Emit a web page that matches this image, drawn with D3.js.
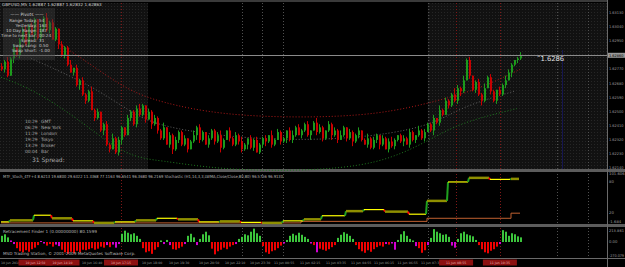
<!DOCTYPE html>
<html>
<head>
<meta charset="utf-8">
<script src="https://cdn.jsdelivr.net/npm/d3@7"></script>
<style>
  body { margin: 0; background: #000; }
  svg { display: block; }
  text { font-family: "DejaVu Sans", sans-serif; }
</style>
</head>
<body>
<svg width="625" height="267"></svg>
<script>
// ---- data ----
const firstOpen = 16279;
const closes = [
  16277,16282,16273,16284,16291,16286,16296,16302,16293,16305,16299,
  16309,16297,16303,16310,16302,16307,16296,16303,
  16293,16286,16291,16280,16275,16278,16267,
  16270,16261,16257,16263,16251,16246,16250,
  16238,16242,16229,16226,16233,16224,
  16232,16240,16235,16246,16250,16242,16252,
  16248,16254,16245,16250,16242,16246,16238,
  16233,16240,16229,16235,16226,16232,16237,16229,
  16233,16226,16231,16235,16240,16232,16237,16229,16233,16238,
  16231,16235,16227,16232,16238,16233,16229,16235,16231,16226,
  16229,16233,16227,16232,16224,16229,16233,16231,16235,16229,
  16232,16237,16231,16233,16238,16232,16235,16240,16235,16238,
  16242,16235,16238,16243,16237,16240,16233,16238,16242,16235,
  16238,16232,16235,16240,16233,16237,16231,16235,16238,16232,
  16229,16233,16227,16232,16235,16229,16233,16226,16231,16228,
  16232,16235,16231,16233,16229,16237,16232,16235,16238,16233,
  16237,16242,16238,16246,16243,16251,16248,16257,
  16254,16261,16257,16265,16263,16270,16283,
  16273,16264,16269,16261,16257,16265,16272,16263,
  16257,16264,16261,16267,16270,16275,16280,16283,16284,16286
];
const wickUp = [
  2,1,3,1,2,0,1,2,3,1,2,1,0,2,1,3,1,2,1,0,
  2,1,1,3,0,2,1,2,1,1,3,1,2,0,1,2,1,3,1,2,
  1,0,2,1,1,2,3,1,0,2,1,2,1,1,3,0,2,1,2,1,
  1,2,0,1,3,1,2,1,0,2,1,1,2,3,1,0,2,1,2,1,
  3,1,0,2,1,2,1,1,2,0,3,1,2,1,1,0,2,3,1,2,
  1,1,2,0,1,3,2,1,0,2,1,2,1,3,1,0,2,1,1,2,
  0,1,3,1,2,1,0,2,1,2,3,1,0,1,2,1,2,1,0,3,
  1,2,1,1,2,0,3,1,2,1,1,4,2,1,3,1,2,0,1,2,
  1,3,1,2,1,0,2,1,3,2,1,0,1,2
];
const wickDn = [
  1,2,1,0,3,1,2,1,1,2,0,3,1,2,1,1,2,0,1,3,
  1,2,1,0,2,1,3,1,2,1,0,2,1,1,3,1,2,0,1,2,
  3,1,0,2,1,2,1,1,2,0,3,1,2,1,1,0,2,3,1,2,
  1,1,2,0,1,3,2,1,0,2,1,2,1,3,1,0,2,1,1,2,
  2,1,3,1,2,0,1,2,3,1,2,1,0,2,1,3,1,2,1,0,
  2,1,1,3,0,2,1,2,1,1,3,1,2,0,1,2,1,3,1,2,
  1,0,2,1,1,2,3,1,0,2,1,2,1,1,3,0,2,1,2,1,
  1,2,0,1,3,1,2,1,0,2,1,1,2,3,1,0,2,1,2,1,
  3,1,0,2,1,2,1,1,2,0,3,1,2,1
];
const priceTicks = [16313,16304,16295,16286,16277,16268,16259,16250,16241,16232,16223,16214];
const lastPrice = 16286;

// envelope curves: [bar, price]
const redBand = [[19,16294],[30,16280],[42,16264],[53,16256],[73,16248],[100,16246],[126,16248],[146,16257],[160,16265],[173,16277]];
const grayBand = [[10,16284],[30,16267],[43,16250],[53,16240],[83,16232],[116,16232],[143,16240],[153,16253],[171,16263]];
const greenBand = [[0,16272],[11,16264],[26,16245],[42,16221],[53,16219],[73,16213],[100,16212],[126,16216],[143,16232],[153,16243],[172,16252]];

// separators (bar positions)
const redSeps = [40, 151.7, 166.3];
const graySeps = [80.3, 87, 94, 142.3, 185.3, 195.7];
const shadedSpans = [[-0.4, 49], [142.3, 202]];

// MTF stochastic steps
const stochBars = [0,3,11,17,24,31,38,45,52,59,66,73,80,87,94,101,107,115,121,128,136,142,149,156,163,170,173];
const stochVals = [2,5,15,9,4,0,2,5,9,7,2,3,1,0,4,7,14,23,26,22,17,43,80,88,85,86,86];
const brownBars = [0,100,142,170,173];
const brownVals = [0,3,9,19,19];
const stochTicks = [["101.606",101.6],["80",80],["20",20],["-1.684",0]];

// histogram
const hist = [
  120,150,90,30,-40,-120,-180,-200,-160,-190,-140,-110,-60,20,-30,-70,-40,-90,-50,-80,
  -150,-200,-230,-190,-220,-170,-200,-150,-160,-140,-120,-150,-130,-90,-110,-60,-100,-50,-110,-40,
  160,220,180,150,170,120,60,-120,-200,-180,-230,-150,-100,30,-40,40,-60,-140,-150,-120,
  -90,-40,120,160,90,-60,60,150,200,130,-130,-240,-180,-150,-110,-140,-90,-60,-40,60,
  100,150,130,200,260,170,120,-80,-200,-230,-180,-160,-120,-70,-30,40,120,160,130,180,
  140,100,60,-30,-60,-200,-130,-150,-170,-140,-100,-60,80,140,190,160,120,60,-60,-140,
  -180,-210,-160,-190,-140,-100,-70,-90,-40,-50,-30,-150,40,150,210,120,60,30,-80,-120,
  -210,-160,-60,80,250,200,170,140,150,100,-70,-110,60,170,200,150,130,110,40,-60,
  -140,-200,-220,-170,-140,-90,-40,230,200,120,170,150,110,90
];
const magentaBars = [3,4,13,14,18,19,35,37,38,39,54,56,61,65,78,94,103,105,128,130,131,138,142,150,151,166];
const histTicks = [["213.861",213.9],["0.00",0],["-270.079",-270]];

// time axis: [text, bar]
const timeLabels = [
  ["10 Jun 2010",0],["10 Jun 16:40",27],["10 Jun 18:00",47],["10 Jun 19:30",56],
  ["10 Jun 20:50",66],["10 Jun 22:10",74.7],["10 Jun 23:30",83],["11 Jun 00:55",91],
  ["11 Jun 02:15",99.7],["11 Jun 03:35",108.3],["11 Jun 04:55",116.7],["11 Jun 06:15",124.3],
  ["11 Jun 06:55",132.2],["11 Jun 07:35",140]
];
// red flags at marked times: [text, center bar]
const timeFlags = [["10 Jun 12:50",11.5],["10 Jun 14:10",20.5],["10 Jun 17:15",40],["11 Jun 08:55",151.7],["11 Jun 10:35",166.3]];

const title = "GBPUSD,M5  1.62887 1.62887 1.62832 1.62863";
const infoRows = [["Range Today:","54"],["Yesterday:","163"],["10 Day Range:","187"],["Time to next bar:","00:24"],["Spread:","31"],["Swap Long:","0.50"],["Swap Short:","-1.00"]];
const clockRows = [["10:29","GMT"],["06:29","New York"],["11:29","London"],["19:29","Tokyo"],["13:29","Broker"],["00:04","Bar"]];
const stochLabel = "MTF_Stoch_4TF+4 8.6213 19.6800 29.6322 11.3368 77.1163 96.6541 96.3680 96.2169  Stochastic (H1,14,3,3,LWMA,Close/Close,80,80) 96.5756 96.9130";
const histLabel = "Retracement Finder 1 (0.00000000) 80.1599";
const copyright = "MSD Trading Station, \u00a9 2001-2009 MetaQuotes Software Corp.";

// ---- layout ----
const svg = d3.select("svg");
const plotRight = 607;
const x = d3.scaleLinear().domain([0, 173]).range([1, 520]);
const y = d3.scaleLinear().domain([16313, 16214]).range([13, 168.1]);
const ys = d3.scaleLinear().domain([0, 101.6]).range([222.9, 170.9]);
const yh = d3.scaleLinear().domain([0, 213.9]).range([242, 231]);

svg.append("rect").attr("width", 625).attr("height", 267).attr("fill", "#000");

// dotted texture
const defs = svg.append("defs");
const pat = defs.append("pattern").attr("id", "dots").attr("width", 3).attr("height", 3)
  .attr("patternUnits", "userSpaceOnUse");
pat.append("rect").attr("width", 3).attr("height", 3).attr("fill", "#111");
pat.append("rect").attr("width", 1).attr("height", 1).attr("fill", "#262626");

svg.append("g").selectAll("rect").data(shadedSpans).join("rect")
  .attr("x", d => Math.max(0, x(d[0])))
  .attr("width", d => Math.min(plotRight, x(d[1])) - Math.max(0, x(d[0])))
  .attr("y", 3).attr("height", 166).attr("fill", "url(#dots)");

// separators through all panels
function seps(list, color) {
  svg.append("g").selectAll("line").data(list).join("line")
    .attr("x1", d => Math.round(x(d)) + 0.5).attr("x2", d => Math.round(x(d)) + 0.5)
    .attr("y1", 3).attr("y2", 258)
    .attr("stroke", color).attr("stroke-width", 1).attr("stroke-dasharray", "1,2");
}
seps(graySeps, "#505050");
seps(redSeps, "#801818");

// blue line at right
svg.append("line").attr("x1", 562.5).attr("x2", 562.5).attr("y1", 50).attr("y2", 169)
  .attr("stroke", "#15154f").attr("stroke-width", 1);

// top frame and panel separators
svg.append("rect").attr("x", 0).attr("y", 0).attr("width", plotRight).attr("height", 2).attr("fill", "#3a3a3a");
svg.append("rect").attr("x", 0).attr("y", 169).attr("width", 625).attr("height", 3).attr("fill", "#5c5c5c");
svg.append("rect").attr("x", 0).attr("y", 224).attr("width", 625).attr("height", 3).attr("fill", "#5c5c5c");
svg.append("line").attr("x1", 0).attr("x2", 625).attr("y1", 258.5).attr("y2", 258.5).attr("stroke", "#6a6a6a");
svg.append("line").attr("x1", plotRight + 0.5).attr("x2", plotRight + 0.5).attr("y1", 0).attr("y2", 267).attr("stroke", "#6a6a6a");

// envelope curves
const band = d3.line().x(d => x(d[0])).y(d => y(d[1])).curve(d3.curveBasis);
[[redBand, "#b01818"], [grayBand, "#606060"], [greenBand, "#1f7a1f"]].forEach(([pts, c]) => {
  svg.append("path").attr("d", band(pts)).attr("fill", "none")
    .attr("stroke", c).attr("stroke-width", 1).attr("stroke-dasharray", "1,2");
});

// candles
const bars = closes.map((c, i) => {
  const o = i === 0 ? firstOpen : closes[i - 1];
  return { i, o, c, h: Math.max(o, c) + wickUp[i], l: Math.min(o, c) - wickDn[i] };
});
const cg = svg.append("g");
cg.selectAll("line").data(bars).join("line")
  .attr("x1", d => Math.round(x(d.i)) + 0.5).attr("x2", d => Math.round(x(d.i)) + 0.5)
  .attr("y1", d => y(d.h)).attr("y2", d => y(d.l))
  .attr("stroke", d => d.c >= d.o ? "#1c9a1c" : "#c80000");
cg.selectAll("rect").data(bars).join("rect")
  .attr("x", d => Math.round(x(d.i)))
  .attr("width", 2)
  .attr("y", d => Math.min(y(d.o), y(d.c)))
  .attr("height", d => Math.max(1, Math.abs(y(d.o) - y(d.c))))
  .attr("fill", d => d.c >= d.o ? "#1c9a1c" : "#c80000");

// last price line
svg.append("line").attr("x1", 0).attr("x2", plotRight).attr("y1", Math.round(y(lastPrice)) + 0.5)
  .attr("y2", Math.round(y(lastPrice)) + 0.5).attr("stroke", "#8a8a8a");

// price axis labels
svg.append("g").selectAll("text").data(priceTicks).join("text")
  .attr("x", 609).attr("y", d => y(d) + 1)
  .attr("font-size", 3.8).attr("fill", "#9a9a9a")
  .attr("textLength", 14.5).attr("lengthAdjust", "spacingAndGlyphs")
  .text(d => (d / 10000).toFixed(5));
svg.append("rect").attr("x", 608).attr("y", y(lastPrice) - 2.5).attr("width", 17).attr("height", 5).attr("fill", "#9a9a9a");
svg.append("text").attr("x", 609).attr("y", y(lastPrice) + 1.5).attr("font-size", 3.8).attr("fill", "#000")
  .attr("textLength", 14.5).attr("lengthAdjust", "spacingAndGlyphs")
  .text((lastPrice / 10000).toFixed(5));
svg.append("text").attr("x", 537).attr("y", y(lastPrice) + 6).attr("font-size", 6.8).attr("fill", "#e0e0e0")
  .text("\u02dc" + (lastPrice / 10000).toFixed(4));

// title
svg.append("text").attr("x", 2).attr("y", 6).attr("font-size", 4.2).attr("fill", "#d0d0d0").text(title);

// info box
svg.append("rect").attr("x", 3).attr("y", 8).attr("width", 52).attr("height", 52)
  .attr("fill", "#3a3a3a").attr("opacity", 0.45);
svg.append("text").attr("x", 27).attr("y", 16).attr("text-anchor", "middle").attr("font-size", 4.4)
  .attr("fill", "#c8c8c8").text("\u2014\u2014  Pivots  \u2014\u2014");
const info = svg.append("g").selectAll("g").data(infoRows).join("g");
info.append("text").attr("x", 37).attr("y", (d, i) => 21.5 + i * 5).attr("text-anchor", "end")
  .attr("font-size", 4.2).attr("fill", "#c8c8c8").text(d => d[0]);
info.append("text").attr("x", 39).attr("y", (d, i) => 21.5 + i * 5)
  .attr("font-size", 4.2).attr("fill", "#c8c8c8").text(d => d[1]);

// clocks
const clk = svg.append("g").selectAll("g").data(clockRows).join("g");
clk.append("text").attr("x", 25).attr("y", (d, i) => 123 + i * 6).attr("font-size", 4.4)
  .attr("fill", "#a8a8a8").text(d => d[0]);
clk.append("text").attr("x", 41).attr("y", (d, i) => 123 + i * 6).attr("font-size", 4.4)
  .attr("fill", "#a8a8a8").text(d => d[1]);
svg.append("text").attr("x", 32).attr("y", 162).attr("font-size", 6).attr("fill", "#a8a8a8").text("31 Spread:");

// MTF stochastic panel
svg.append("text").attr("x", 3).attr("y", 178).attr("font-size", 4.2).attr("fill", "#b8b8b8")
  .attr("textLength", 280).attr("lengthAdjust", "spacingAndGlyphs").text(stochLabel);
const sg = svg.append("g");
sg.append("path").attr("fill", "none").attr("stroke", "#c06030").attr("stroke-width", 1)
  .attr("d", d3.line().curve(d3.curveStepAfter).x(d => x(d[0])).y(d => ys(d[1]))(brownBars.map((b, k) => [b, brownVals[k]])));
stochBars.slice(0, -1).forEach((b, k) => {
  const v = stochVals[k], nb = stochBars[k + 1], nv = stochVals[k + 1];
  const olive = k % 2 === 1;
  sg.append("line").attr("x1", x(b)).attr("x2", x(nb) - 1).attr("y1", ys(v)).attr("y2", ys(v))
    .attr("stroke", olive ? "#8f8f00" : "#ffff00").attr("stroke-width", olive ? 2.5 : 1.2);
  if (nv !== v && k < stochBars.length - 2) {
    sg.append("line").attr("x1", x(nb) - 1).attr("x2", x(nb)).attr("y1", ys(v)).attr("y2", ys(nv))
      .attr("stroke", nv > v ? "#1fa01f" : "#ff0000").attr("stroke-width", 2);
  }
});
svg.append("g").selectAll("text").data(stochTicks).join("text")
  .attr("x", 609).attr("y", d => Math.max(175, Math.min(222.5, ys(d[1]) + 1.5)))
  .attr("font-size", 3.8).attr("fill", "#9a9a9a").text(d => d[0]);

// histogram panel
svg.append("text").attr("x", 3).attr("y", 233).attr("font-size", 4.2).attr("fill", "#b8b8b8").text(histLabel);
svg.append("g").selectAll("rect").data(hist).join("rect")
  .attr("x", (d, i) => Math.round(x(i)))
  .attr("width", 2)
  .attr("y", d => Math.min(yh(d), yh(0)))
  .attr("height", d => Math.abs(yh(d) - yh(0)))
  .attr("fill", (d, i) => magentaBars.includes(i) ? "#d000d0" : d >= 0 ? "#3cc43c" : "#ee0000");
svg.append("text").attr("x", 3).attr("y", 255).attr("font-size", 4.2).attr("fill", "#b8b8b8").text(copyright);
svg.append("g").selectAll("text").data(histTicks).join("text")
  .attr("x", 609).attr("y", d => yh(d[1]) + 1).attr("font-size", 3.8).attr("fill", "#9a9a9a")
  .attr("textLength", d => d[0].length > 5 ? 15 : null).attr("lengthAdjust", "spacingAndGlyphs").text(d => d[0]);

// time axis
const tg = svg.append("g").selectAll("g").data(timeLabels).join("g");
tg.append("text").attr("x", d => x(d[1])).attr("y", 264).attr("font-size", 3.2)
  .attr("fill", "#9a9a9a").text(d => d[0]);
const fg = svg.append("g").selectAll("g").data(timeFlags).join("g");
fg.append("rect").attr("x", d => x(d[1]) - 17).attr("y", 259.5).attr("width", 34).attr("height", 6).attr("fill", "#8b1010");
fg.append("text").attr("x", d => x(d[1])).attr("y", 264).attr("text-anchor", "middle").attr("font-size", 3.2)
  .attr("fill", "#e8b0b0").text(d => d[0]);
</script>
</body>
</html>
